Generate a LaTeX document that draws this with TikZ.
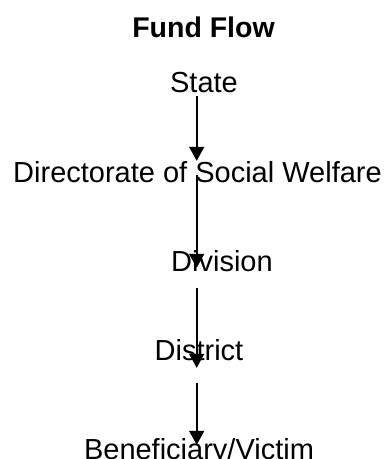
\documentclass[tikz,border=0pt]{standalone}
\usepackage{fontspec}
\setmainfont{Liberation Sans}
\usetikzlibrary{arrows.meta}

\tikzset{
  level/.style={anchor=base, inner sep=0pt, text height=20pt, text depth=6pt,
    font=\fontsize{29}{33}\selectfont},
  heading/.style={anchor=base, inner sep=0pt, font=\fontsize{28.5}{32}\selectfont\bfseries},
  flow/.style={line width=1.7pt, -{Triangle[width=15pt,length=14pt]}}
}

\begin{document}
\begin{tikzpicture}[x=1pt,y=-1pt]
  \useasboundingbox (0,0) rectangle (388,459);

  % heading
  \node[heading] (title) at (203.5,37) {Fund Flow};

  % levels of the fund flow
  \node[level] (state) at (204,92.5) {State};
  \node[level] (dsw)   at (197.5,182) {Directorate of Social Welfare};
  \node[level] (div)   at (222,271) {Division};
  \node[level] (dist)  at (199,360) {District};
  \node[level] (benef) at (199,459) {Beneficiary/Victim};

  % the spine along which funds pass down
  \coordinate (spine) at (196.7,0);

  \draw[flow, shorten <=-2.5pt, shorten >=1pt]
    (state.south -| spine) -- (dsw.north -| spine);
  \draw[flow, shorten <=-13pt, shorten >=-17pt]
    (dsw.south -| spine) -- (div.north -| spine);
  \draw[flow, shorten <=11pt, shorten >=-28pt]
    (div.south -| spine) -- (dist.north -| spine);
  \draw[flow, shorten <=17pt, shorten >=-6pt]
    (dist.south -| spine) -- (benef.north -| spine);
\end{tikzpicture}
\end{document}
